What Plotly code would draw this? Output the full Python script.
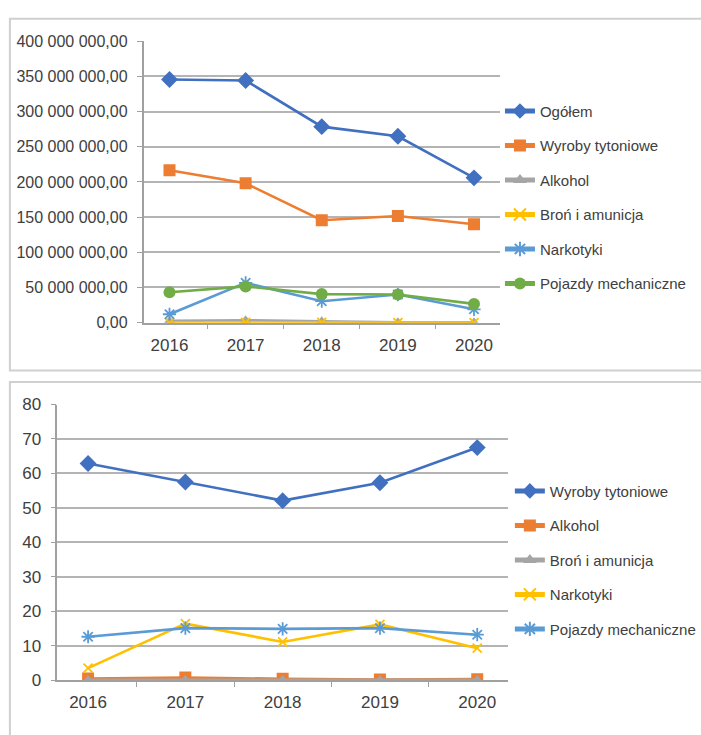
import plotly.graph_objects as go

years = ["2016", "2017", "2018", "2019", "2020"]

# Top chart (values in PLN)
top_ogolem = [345.5e6, 344.0e6, 278.5e6, 264.8e6, 205.8e6]
top_wyroby = [216.5e6, 198.0e6, 145.5e6, 151.5e6, 139.8e6]
top_alkohol = [2.5e6, 3.5e6, 2.0e6, 0.6e6, 0.5e6]
top_bron = [0.3e6, 0.4e6, 0.3e6, 0.2e6, 0.2e6]
top_narkotyki = [12.0e6, 56.5e6, 30.5e6, 40.0e6, 19.0e6]
top_pojazdy = [43.3e6, 51.5e6, 40.6e6, 40.0e6, 26.7e6]

# Bottom chart (percent)
bot_wyroby = [62.9, 57.5, 52.1, 57.3, 67.5]
bot_alkohol = [0.5, 0.8, 0.4, 0.2, 0.3]
bot_bron = [0.1, 0.1, 0.1, 0.1, 0.1]
bot_narkotyki = [3.5, 16.4, 11.1, 16.2, 9.3]
bot_pojazdy = [12.6, 15.1, 14.9, 15.1, 13.2]

BLUE = "#4170C0"
ORANGE = "#ED7D31"
GRAY = "#A5A5A5"
YELLOW = "#FFC000"
LBLUE = "#5B9BD5"
GREEN = "#70AD47"

W, H = 701, 735
FONT = "Liberation Sans"
TXT = "#404040"


def px(x):
    return x / W


def py(y):
    return 1 - y / H


fig = go.Figure()


def add(x, y, name, color, symbol, size, xa, ya, legend, open_sym=False):
    marker = dict(symbol=symbol, size=size, color=color)
    if open_sym:
        marker["line"] = dict(color=color, width=1.8)
    else:
        marker["line"] = dict(color=color, width=0)
    fig.add_trace(go.Scatter(
        x=x, y=y, name=name, mode="lines+markers",
        line=dict(color=color, width=2.6),
        marker=marker, xaxis=xa, yaxis=ya, legend=legend,
        legendgroup=name + legend,
    ))


add(years, top_ogolem, "Ogółem", BLUE, "diamond", 13, "x", "y", "legend")
add(years, top_wyroby, "Wyroby tytoniowe", ORANGE, "square", 12, "x", "y", "legend")
add(years, top_alkohol, "Alkohol", GRAY, "triangle-up", 10, "x", "y", "legend")
add(years, top_bron, "Broń i amunicja", YELLOW, "x-thin-open", 9, "x", "y", "legend", True)
add(years, top_narkotyki, "Narkotyki", LBLUE, "asterisk-open", 11, "x", "y", "legend", True)
add(years, top_pojazdy, "Pojazdy mechaniczne", GREEN, "circle", 12, "x", "y", "legend")

add(years, bot_wyroby, "Wyroby tytoniowe", BLUE, "diamond", 13, "x2", "y2", "legend2")
add(years, bot_alkohol, "Alkohol", ORANGE, "square", 12, "x2", "y2", "legend2")
add(years, bot_bron, "Broń i amunicja", GRAY, "triangle-up", 10, "x2", "y2", "legend2")
add(years, bot_narkotyki, "Narkotyki", YELLOW, "x-thin-open", 9, "x2", "y2", "legend2", True)
add(years, bot_pojazdy, "Pojazdy mechaniczne", LBLUE, "asterisk-open", 11, "x2", "y2", "legend2", True)

GRID = "#B4B4B4"
AX = "#A0A0A0"

xcommon = dict(type="category", tickson="boundaries", ticks="outside", ticklen=5,
               tickcolor=AX, showgrid=False, showline=True, linecolor=AX, linewidth=1.5,
               tickfont=dict(family=FONT, size=17, color=TXT), zeroline=False,
               ticklabelstandoff=6)
ycommon = dict(showgrid=True, gridcolor=GRID, gridwidth=1.5, showline=True, linecolor=AX,
               linewidth=1.5, ticks="outside", ticklen=5, tickcolor=AX, zeroline=False,
               ticklabelstandoff=6)

fig.update_layout(
    width=W, height=H, margin=dict(l=0, r=0, t=0, b=0),
    paper_bgcolor="white", plot_bgcolor="white",
    separators=", ",
    showlegend=True,
    xaxis=dict(domain=[px(145), px(505)], anchor="y", **xcommon),
    yaxis=dict(domain=[py(322), py(33)], anchor="x", range=[0, 400e6], dtick=50e6,
               tickformat=",.2f", tickfont=dict(family=FONT, size=16, color=TXT), **ycommon),
    xaxis2=dict(domain=[px(58), px(513)], anchor="y2", **xcommon),
    yaxis2=dict(domain=[py(689), py(406)], anchor="x2", range=[0, 80], dtick=10,
                tickformat="d", tickfont=dict(family=FONT, size=17, color=TXT), **ycommon),
    legend=dict(x=px(505), y=py(88), xanchor="left", yanchor="top",
                traceorder="grouped", tracegroupgap=12, itemsizing="constant",
                font=dict(family=FONT, size=15, color=TXT), bgcolor="rgba(0,0,0,0)"),
    legend2=dict(x=px(515), y=py(478), xanchor="left", yanchor="top",
                 traceorder="grouped", tracegroupgap=12, itemsizing="constant",
                 font=dict(family=FONT, size=15, color=TXT), bgcolor="rgba(0,0,0,0)"),
    shapes=[
        dict(type="rect", xref="paper", yref="paper", x0=px(10), x1=px(720), y0=py(371), y1=py(10),
             line=dict(color="#D0D0D0", width=2), layer="below"),
        dict(type="rect", xref="paper", yref="paper", x0=px(10), x1=px(720), y0=py(780), y1=py(383),
             line=dict(color="#D0D0D0", width=2), layer="below"),
    ],
)

fig.write_html("out.html", config={"displayModeBar": False},
               post_script="document.body.style.margin='0';document.body.style.overflow='hidden';")
